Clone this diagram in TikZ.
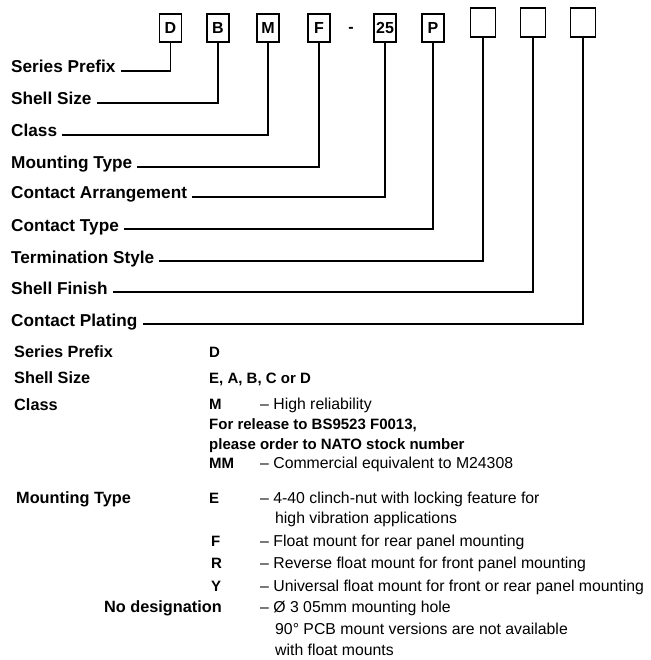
\documentclass[tikz,border=0pt]{standalone}
\usepackage{fontspec}
\setmainfont{Liberation Sans}
\usetikzlibrary{positioning}

\begin{document}
\begin{tikzpicture}[x=1pt,y=-1pt,
      cell/.style={draw,line width=1.3pt,minimum width=22pt,minimum height=28pt,inner sep=0pt,font=\fontsize{16}{16}\selectfont\bfseries},
      blank/.style={draw,line width=1.3pt,minimum width=25pt,minimum height=29pt,inner sep=0pt},
      lab/.style={anchor=base west,inner sep=0pt,font=\fontsize{17.2}{20}\selectfont\bfseries},
      sublab/.style={anchor=base west,inner sep=0pt,font=\fontsize{16.3}{19}\selectfont\bfseries},
      val/.style={anchor=base west,inner sep=0pt,font=\fontsize{15}{18}\selectfont\bfseries},
      desc/.style={anchor=base west,inner sep=0pt,font=\fontsize{15.8}{18}\selectfont},
      lead/.style={line width=1.1pt}]
    \useasboundingbox (0,0) rectangle (650,660);
    % part number boxes
    \foreach \n/\x/\t in {D/170.5/D,B/218/B,M/268/M,F/319/F,N/385/25,P/433/P}
      \node[cell] (c\n) at (\x,28) {\t};
    \foreach \n/\x in {T/483,S/533,C/583}
      \node[blank] (c\n) at (\x,22.5) {};
    \node[inner sep=0pt,font=\fontsize{16}{16}\selectfont\bfseries] (hy) at (351,30) {-};
    % field names with leaders
    \foreach \n/\y/\t/\c in {sp/73/Series Prefix/D,ss/105/Shell Size/B,cl/137/Class/M,
        mt/169/Mounting Type/F,ca/199/Contact Arrangement/N,ct/231/Contact Type/P,
        ts/263/Termination Style/T,sf/294/Shell Finish/S,cp/326/Contact Plating/C} {
      \node[lab] (l\n) at (11,\y) {\t};
      \draw[lead] ([shift={(5,-2)}]l\n.base east) -| (c\c.south);
    }
    % key
    \node[sublab] (kSP) at (14,357) {Series Prefix};
    \node[sublab] (kSS) at (14,383) {Shell Size};
    \node[sublab] (kCL) at (14,410) {Class};
    \node[sublab] (kMT) at (16,503) {Mounting Type};
    \node[sublab,anchor=base east] (kND) at (222,612) {No designation};
    \node[val] (vD) at (209,357) {D};
    \node[val] (vSS) at (209,383) {E, A, B, C or D};
    \node[val] (vM) at (209,409) {M};
    \node[val] (vRel) at (209,429) {For release to BS9523 F0013,};
    \node[val] (vNato) at (209,449) {please order to NATO stock number};
    \node[val] (vMM) at (209,468) {MM};
    \node[val] (vE) at (209,503) {E};
    \node[val] (vF) at (211,546) {F};
    \node[val] (vR) at (211,568) {R};
    \node[val] (vY) at (211,591) {Y};
    \node[desc] (dM) at (260,409) {– High reliability};
    \node[desc] (dMM) at (260,468) {– Commercial equivalent to M24308};
    \node[desc] (dE) at (260,503) {– 4-40 clinch-nut with locking feature for};
    \node[desc] (dE2) at (275,523) {high vibration applications};
    \node[desc] (dF) at (260,546) {– Float mount for rear panel mounting};
    \node[desc] (dR) at (260,568) {– Reverse float mount for front panel mounting};
    \node[desc] (dY) at (260,591) {– Universal float mount for front or rear panel mounting};
    \node[desc] (dND) at (260,612) {– Ø 3 05mm mounting hole};
    \node[desc] (dND2) at (275,634) {90° PCB mount versions are not available};
    \node[desc] (dND3) at (275,655) {with float mounts};
  \end{tikzpicture}
\end{document}
